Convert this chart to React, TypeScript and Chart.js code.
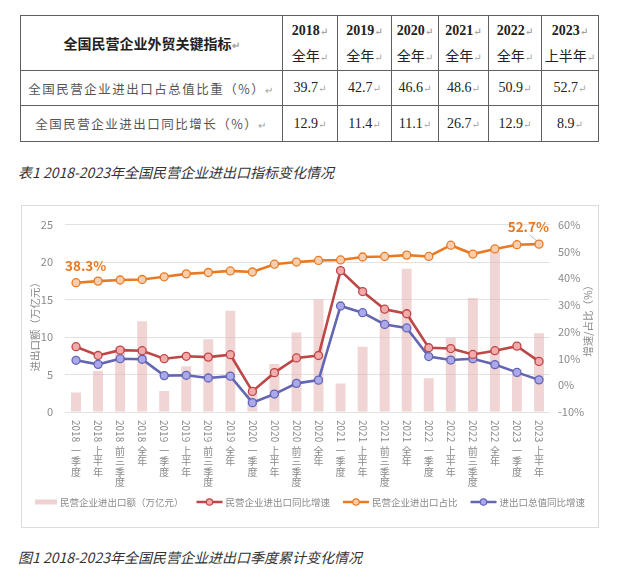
import { useEffect, useRef } from "react";
import { Chart, registerables } from "chart.js";

Chart.register(...registerables);

const SANS = '"Noto Sans CJK SC", "Noto Sans", sans-serif';
const SERIF = '"Liberation Serif", "DejaVu Serif", "Noto Sans CJK SC", serif';

// table data
const tableYears = ["2018", "2019", "2020", "2021", "2022", "2023"];
const tablePeriods = ["全年", "全年", "全年", "全年", "全年", "上半年"];
const tableShare = ["39.7", "42.7", "46.6", "48.6", "50.9", "52.7"];
const tableGrowth = ["12.9", "11.4", "11.1", "26.7", "12.9", "8.9"];

// chart data
const quarterLabels = [
  "2018 一季度", "2018 上半年", "2018 前三季度", "2018 全年",
  "2019 一季度", "2019 上半年", "2019 前三季度", "2019 全年",
  "2020 一季度", "2020 上半年", "2020 前三季度", "2020 全年",
  "2021 一季度", "2021 上半年", "2021 前三季度", "2021 全年",
  "2022 一季度", "2022 上半年", "2022 前三季度", "2022 全年",
  "2023 一季度", "2023 上半年",
];
const tradeValue = [
  2.6, 5.5, 8.7, 12.1, 2.8, 6.1, 9.7, 13.5, 2.6, 6.4, 10.6, 15.0,
  3.8, 8.7, 13.5, 19.1, 4.5, 9.9, 15.2, 21.4, 5.0, 10.5,
];
const privateGrowth = [
  14.4, 11.1, 13.1, 12.9, 9.9, 10.8, 10.5, 11.4, -2.3, 4.7, 10.2, 11.1,
  42.8, 35.0, 28.4, 26.7, 14.0, 13.7, 11.5, 12.9, 14.6, 8.9,
];
const privateShare = [
  38.3, 38.9, 39.3, 39.5, 40.5, 41.6, 42.1, 42.7, 42.3, 45.2, 46.0, 46.6,
  46.8, 47.9, 48.1, 48.6, 48.1, 52.3, 49.0, 50.9, 52.5, 52.7,
];
const totalGrowth = [
  9.3, 7.8, 9.9, 9.7, 3.6, 3.7, 2.7, 3.4, -6.5, -3.3, 0.7, 1.9,
  29.6, 27.1, 22.7, 21.4, 10.7, 9.4, 9.9, 7.7, 4.8, 2.0,
];

const RED = "#bd4647";
const ORANGE = "#ea7a22";
const BLUE = "#6266b3";
const BAR = "rgba(230, 176, 176, 0.55)";

// vertical tick labels, axis titles, end labels and legend
const decorPlugin = {
  id: "decor",
  afterDraw(chart: any) {
    const { ctx, chartArea } = chart;
    const xScale = chart.scales.x;
    ctx.save();

    // x labels: year turned sideways, period characters upright
    ctx.fillStyle = "#8a8a8a";
    ctx.font = `10px ${SANS}`;
    quarterLabels.forEach((label, i) => {
      const px = xScale.getPixelForValue(i);
      const [year, period] = label.split(" ");
      let y = chartArea.bottom + 8;
      ctx.save();
      ctx.translate(px, y);
      ctx.rotate(Math.PI / 2);
      ctx.textAlign = "left";
      ctx.textBaseline = "middle";
      ctx.fillText(year, 0, 0);
      ctx.restore();
      y += ctx.measureText(year).width + 4;
      ctx.textAlign = "center";
      ctx.textBaseline = "top";
      for (const ch of period) {
        ctx.fillText(ch, px, y);
        y += 10.5;
      }
    });

    // axis titles (both read bottom to top)
    const midY = (chartArea.top + chartArea.bottom) / 2;
    ctx.font = `10.5px ${SANS}`;
    ctx.textAlign = "center";
    ctx.textBaseline = "middle";
    [
      { text: "进出口额（万亿元）", x: 13, y: midY + 6 },
      { text: "增速/占比（%）", x: chart.width - 10, y: midY },
    ].forEach((t) => {
      ctx.save();
      ctx.translate(t.x, t.y);
      ctx.rotate(-Math.PI / 2);
      ctx.fillText(t.text, 0, 0);
      ctx.restore();
    });

    // first / last labels on the share line
    const meta = chart.getDatasetMeta(2);
    const first = meta.data[0];
    const last = meta.data[meta.data.length - 1];
    ctx.fillStyle = ORANGE;
    ctx.font = `bold 13.5px ${SANS}`;
    ctx.textBaseline = "middle";
    ctx.textAlign = "left";
    ctx.fillText(privateShare[0].toFixed(1) + "%", first.x - 11, first.y - 17);
    ctx.textAlign = "right";
    ctx.fillText(
      privateShare[privateShare.length - 1].toFixed(1) + "%",
      last.x + 10,
      last.y - 17
    );
    ctx.strokeStyle = "#a8a8a8";
    ctx.lineWidth = 0.8;
    ctx.beginPath();
    ctx.moveTo(last.x - 9, last.y - 9);
    ctx.lineTo(last.x - 2, last.y - 3);
    ctx.stroke();

    // legend
    ctx.font = `9.5px ${SANS}`;
    const items = chart.data.datasets.map((ds: any) => {
      const sw = ds.type === "line" ? 26 : 22;
      return { ds, sw, w: sw + 3 + ctx.measureText(ds.label).width };
    });
    const gap = 13;
    const total =
      items.reduce((a: number, it: any) => a + it.w, 0) + gap * (items.length - 1);
    let lx = (chart.width - total) / 2;
    const ly = chart.height - 24;
    items.forEach((it: any) => {
      const ds = it.ds;
      if (ds.type === "line") {
        ctx.strokeStyle = ds.borderColor;
        ctx.lineWidth = 2.5;
        ctx.beginPath();
        ctx.moveTo(lx, ly);
        ctx.lineTo(lx + it.sw, ly);
        ctx.stroke();
        ctx.fillStyle = ds.pointBackgroundColor;
        ctx.lineWidth = 1.2;
        ctx.beginPath();
        ctx.arc(lx + it.sw / 2, ly, 3.2, 0, Math.PI * 2);
        ctx.fill();
        ctx.stroke();
      } else {
        ctx.fillStyle = "#efd1d1";
        ctx.fillRect(lx, ly - 2.5, it.sw, 5);
      }
      ctx.fillStyle = "#8a8a8a";
      ctx.textAlign = "left";
      ctx.textBaseline = "middle";
      ctx.fillText(ds.label, lx + it.sw + 3, ly);
      lx += it.w + gap;
    });

    ctx.restore();
  },
};

function ChinaTradeChart() {
  const canvasRef = useRef<HTMLCanvasElement>(null);

  useEffect(() => {
    const canvas = canvasRef.current;
    if (!canvas) return;

    const lineStyle = (color: string, fill: string) => ({
      type: "line" as const,
      yAxisID: "y1",
      borderColor: color,
      backgroundColor: color,
      borderWidth: 2.6,
      tension: 0,
      pointRadius: 4,
      pointBorderWidth: 1.3,
      pointBackgroundColor: fill,
      pointBorderColor: color,
    });

    const chart = new Chart(canvas, {
      type: "bar",
      data: {
        labels: quarterLabels,
        datasets: [
          {
            type: "bar",
            label: "民营企业进出口额（万亿元）",
            data: tradeValue,
            yAxisID: "y",
            backgroundColor: BAR,
            barPercentage: 0.45,
            categoryPercentage: 1,
            order: 10,
          },
          {
            ...lineStyle(RED, "#f3aaaa"),
            label: "民营企业进出口同比增速",
            data: privateGrowth,
            order: 2,
          },
          {
            ...lineStyle(ORANGE, "#f8ceb0"),
            label: "民营企业进出口占比",
            data: privateShare,
            order: 1,
          },
          {
            ...lineStyle(BLUE, "#aba9ec"),
            label: "进出口总值同比增速",
            data: totalGrowth,
            order: 3,
          },
        ] as any,
      },
      options: {
        animation: false,
        responsive: true,
        maintainAspectRatio: false,
        font: { family: SANS },
        layout: { padding: { top: 11, bottom: 50, left: 0, right: 0 } },
        plugins: {
          legend: { display: false },
          tooltip: { enabled: false },
        },
        scales: {
          x: {
            grid: { display: false },
            border: { display: false },
            ticks: { display: false },
            afterFit: (s: any) => {
              s.height = 64;
            },
          },
          y: {
            position: "left",
            min: 0,
            max: 25,
            ticks: {
              stepSize: 5,
              color: "#8a8a8a",
              padding: 12,
              font: { family: SANS, size: 11 },
            },
            grid: { color: "#e2e2e2", drawTicks: false },
            border: { display: false },
            afterFit: (s: any) => {
              s.width = 43;
            },
          },
          y1: {
            position: "right",
            min: -10,
            max: 60,
            ticks: {
              stepSize: 10,
              color: "#8a8a8a",
              padding: 8,
              font: { family: SANS, size: 11 },
              callback: (v: any) => v + "%",
            },
            grid: { display: false, drawTicks: false },
            border: { display: false },
            afterFit: (s: any) => {
              s.width = 48;
            },
          },
        },
      } as any,
      plugins: [decorPlugin],
    });

    return () => chart.destroy();
  }, []);

  return (
    <div style={{ position: "absolute", left: 0, top: 0, width: 576, height: 320 }}>
      <canvas ref={canvasRef} />
    </div>
  );
}

const mark = <span style={{ color: "#a0a0a0", fontSize: 10 }}>↵</span>;
const cell: React.CSSProperties = {
  border: "1px solid #5f5f5f",
  textAlign: "center",
  padding: 0,
  color: "#222",
};

export default function App() {
  return (
    <div
      style={{
        position: "absolute",
        left: 0,
        top: 0,
        width: 640,
        height: 580,
        background: "#fff",
        fontFamily: SANS,
      }}
    >
      <table
        style={{
          position: "absolute",
          left: 20,
          top: 15,
          width: 578,
          borderCollapse: "collapse",
          tableLayout: "fixed",
          fontFamily: SERIF,
        }}
      >
        <colgroup>
          <col style={{ width: 262 }} />
          <col style={{ width: 55 }} />
          <col style={{ width: 54 }} />
          <col style={{ width: 47 }} />
          <col style={{ width: 50 }} />
          <col style={{ width: 53 }} />
          <col style={{ width: 57 }} />
        </colgroup>
        <tbody>
          <tr style={{ height: 53 }}>
            <td style={{ ...cell, fontFamily: SANS, fontWeight: "bold", fontSize: 14 }}>
              全国民营企业外贸关键指标{mark}
            </td>
            {tableYears.map((y, i) => (
              <td key={y} style={{ ...cell, fontSize: 14, lineHeight: "25px", paddingTop: 2 }}>
                <div style={{ fontWeight: "bold" }}>
                  {y}
                  {mark}
                </div>
                <div>
                  {tablePeriods[i]}
                  {mark}
                </div>
              </td>
            ))}
          </tr>
          <tr style={{ height: 35 }}>
            <td
              style={{
                ...cell,
                fontFamily: SANS,
                fontSize: 12.5,
                letterSpacing: 1.5,
                color: "#555",
              }}
            >
              全国民营企业进出口占总值比重（%）{mark}
            </td>
            {tableShare.map((v, i) => (
              <td key={i} style={{ ...cell, fontSize: 14 }}>
                {v}
                {mark}
              </td>
            ))}
          </tr>
          <tr style={{ height: 36 }}>
            <td
              style={{
                ...cell,
                fontFamily: SANS,
                fontSize: 12.5,
                letterSpacing: 1.5,
                color: "#555",
              }}
            >
              全国民营企业进出口同比增长（%）{mark}
            </td>
            {tableGrowth.map((v, i) => (
              <td key={i} style={{ ...cell, fontSize: 14 }}>
                {v}
                {mark}
              </td>
            ))}
          </tr>
        </tbody>
      </table>

      <div
        style={{
          position: "absolute",
          left: 18,
          top: 162,
          fontSize: 14,
          lineHeight: "20px",
          fontStyle: "italic",
          color: "#333",
        }}
      >
        表1 2018-2023年全国民营企业进出口指标变化情况
      </div>

      <div
        style={{
          position: "absolute",
          left: 21,
          top: 205,
          width: 578,
          height: 323,
          boxSizing: "border-box",
          border: "1px solid #dcdcdc",
        }}
      >
        <ChinaTradeChart />
      </div>

      <div
        style={{
          position: "absolute",
          left: 18,
          top: 547,
          fontSize: 14,
          lineHeight: "20px",
          fontStyle: "italic",
          color: "#333",
        }}
      >
        图1 2018-2023年全国民营企业进出口季度累计变化情况
      </div>
    </div>
  );
}
